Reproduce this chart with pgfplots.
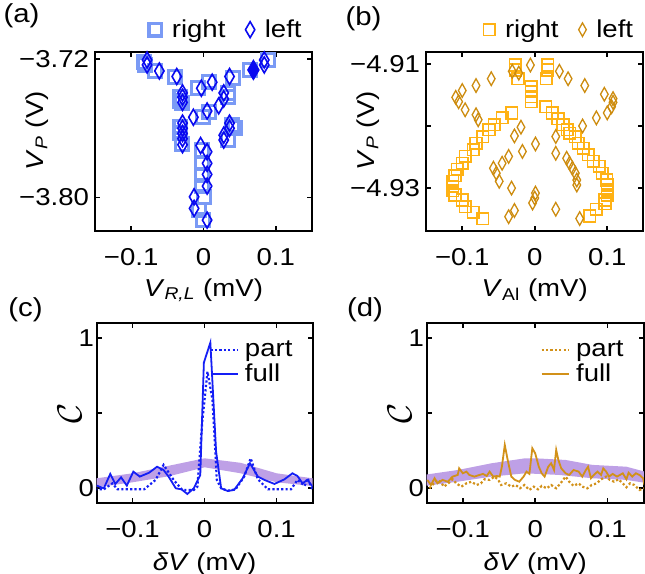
\documentclass[border=0pt]{standalone}
\usepackage{fontspec}
\setmainfont{Liberation Sans}[FakeStretch=1.13]
\usepackage{pgfplots}
\pgfplotsset{compat=1.18}
\definecolor{sqblue}{RGB}{122,154,245}
\definecolor{dblue}{RGB}{10,10,240}
\definecolor{sqorange}{RGB}{255,178,20}
\definecolor{dorange}{RGB}{205,140,15}
\definecolor{lineblue}{RGB}{20,30,245}
\definecolor{lineorange}{RGB}{210,145,25}
\definecolor{lav}{RGB}{190,160,230}
\newcommand{\fs}{\fontsize{12.2}{14}\selectfont}
\pgfplotsset{
  panel/.style={scale only axis, anchor=south west,
    font=\fs,
    axis line style={line width=1pt},
    every tick/.style={black, line width=0.8pt},
    major tick length=2.5pt, tick align=inside,
    xmin=-0.15, xmax=0.15,
    xtick={-0.1,0,0.1}, xticklabels={−0.1,0,0.1},
    xticklabel style={yshift=-5pt},
    xlabel style={at={(axis description cs:0.5,-0.33)}, anchor=center},
    legend cell align=left,
    legend style={draw=none, fill=none, font=\fs,
      /tikz/every odd column/.append style={column sep=3pt}},
  },
  scat/.style={panel,
    legend style={at={(1.0,1.02)}, anchor=south east, legend columns=2,
      /tikz/every even column/.append style={column sep=8pt}},
    yticklabel style={xshift=0.5pt},
    ylabel style={at={(axis description cs:-0.265,0.56)}, anchor=center},
  },
  corr/.style={panel, ymin=-0.1, ymax=1.1, ytick={0,0.5,1}, yticklabels={0,,1},
    ylabel={\fontsize{17}{17}\selectfont$\mathcal{C}$},
    ylabel style={at={(axis description cs:-0.125,0.5)}, anchor=center},
    yticklabel style={xshift=2.2pt},
    xlabel={\textit{δV} (mV)},
    xlabel style={at={(axis description cs:0.5,-0.34)}},
    legend image code/.code={\draw[##1] (0cm,0cm) -- (0.48cm,0cm);},
    legend style={at={(0.955,0.95)}, anchor=north east, row sep=-2pt,
      /tikz/every odd column/.append style={column sep=1pt}},
  },
}
\begin{document}
\begin{tikzpicture}
\useasboundingbox (0,0) rectangle (322.5pt,287pt);
% ---------------- (a)
\begin{axis}[scat, at={(47.5pt,171.5pt)}, width=108.5pt, height=89.5pt,
  ymin=-3.8195, ymax=-3.7158,
  ytick={-3.80,-3.72}, yticklabels={−3.80,−3.72},
  xlabel={\textit{V}\textsubscript{\textit{R,L}} (mV)},
  ylabel={\textit{V}\textsubscript{\textit{P}} (V)}]
\addplot[only marks, mark=square, mark size=3.2pt, mark options={draw=sqblue, line width=1.6pt}] coordinates {
(-0.082,-3.7215) (-0.081,-3.7233) (-0.067,-3.7268) (-0.040,-3.7304)
(-0.032,-3.7420) (-0.032,-3.7439) (-0.030,-3.7455) (-0.008,-3.7368)
(0.008,-3.7330) (0.041,-3.7307) (0.034,-3.7395) (0.034,-3.7420)
(0.008,-3.7504) (-0.001,-3.7536) (-0.032,-3.7590) (-0.032,-3.7630)
(-0.030,-3.7690) (0.043,-3.7600) (0.040,-3.7580) (0.034,-3.7668)
(-0.002,-3.7727) (-0.002,-3.7803) (-0.002,-3.7871) (-0.002,-3.7933)
(0.001,-3.7997) (-0.006,-3.8074) (-0.001,-3.8132) (0.089,-3.7204)
(0.064,-3.7262)};
\addlegendentry{right}
\addplot[only marks, mark=diamond, mark size=4pt, mark options={draw=dblue, fill=white, line width=0.8pt, xscale=0.78}] coordinates {
(-0.078,-3.7204) (-0.078,-3.7233) (-0.061,-3.7268) (-0.037,-3.7300)
(-0.029,-3.7395) (-0.029,-3.7420) (-0.029,-3.7450)
(-0.003,-3.7368) (0.012,-3.7333) (0.036,-3.7300)
(0.028,-3.7395) (0.028,-3.7430) (0.021,-3.7470) (0.005,-3.7500) (-0.014,-3.7536)
(-0.029,-3.7570) (-0.029,-3.7600) (-0.029,-3.7630) (-0.029,-3.7660) (-0.029,-3.7695)
(0.036,-3.7570) (0.036,-3.7600) (0.028,-3.7640) (0.028,-3.7668)
(-0.004,-3.7700) (0.005,-3.7736) (0.005,-3.7803) (0.005,-3.7867) (0.005,-3.7935)
(-0.013,-3.7997) (-0.013,-3.8064) (0.005,-3.8132)
(0.084,-3.7204) (0.084,-3.7233)};
\addlegendentry{left}
\addplot[only marks, forget plot, mark=diamond*, mark size=5pt, mark options={draw=dblue, fill=dblue, xscale=0.78}] coordinates {(0.069,-3.7262)};
\end{axis}
% ---------------- (b)
\begin{axis}[scat, at={(213pt,171.5pt)}, width=108.75pt, height=89.5pt,
  ymin=-4.9369, ymax=-4.9081,
  ytick={-4.93,-4.92,-4.91}, yticklabels={−4.93,,−4.91},
  xlabel={\textit{V}\textsubscript{Al} (mV)},
  ylabel={\textit{V}\textsubscript{\textit{P}} (V)}]
\addplot[only marks, mark=square, mark size=2.9pt, mark options={draw=sqorange, line width=0.8pt}] coordinates {
(-0.027,-4.9102) (-0.027,-4.9110) (-0.023,-4.9124)
(-0.032,-4.9179) (-0.045,-4.9187) (-0.056,-4.9198) (-0.063,-4.9206)
(-0.072,-4.9217) (-0.081,-4.9228) (-0.085,-4.9238) (-0.096,-4.9249)
(-0.100,-4.9260) (-0.107,-4.9270) (-0.110,-4.9280) (-0.113,-4.9289)
(-0.113,-4.9297) (-0.113,-4.9304) (-0.110,-4.9311) (-0.100,-4.9319)
(-0.096,-4.9330) (-0.085,-4.9339) (-0.072,-4.9349)
(-0.005,-4.9137) (-0.005,-4.9145) (-0.005,-4.9153) (-0.005,-4.9161)
(0.018,-4.9102) (0.018,-4.9110) (0.016,-4.9124)
(0.015,-4.9169) (0.024,-4.9179) (0.032,-4.9188) (0.039,-4.9198)
(0.045,-4.9206) (0.048,-4.9212) (0.056,-4.9217) (0.060,-4.9228)
(0.067,-4.9236) (0.074,-4.9246) (0.081,-4.9257) (0.089,-4.9265)
(0.093,-4.9276) (0.099,-4.9287) (0.100,-4.9295) (0.100,-4.9303)
(0.100,-4.9311) (0.097,-4.9319) (0.097,-4.9325) (0.085,-4.9334)
(0.076,-4.9345)};
\addlegendentry{right}
\addplot[only marks, mark=diamond, mark size=3.4pt, mark options={draw=dorange, fill=white, line width=0.65pt, xscale=0.75}] coordinates {
(-0.006,-4.9102) (-0.031,-4.9112) (-0.022,-4.9115) (-0.060,-4.9124)
(-0.081,-4.9135) (-0.100,-4.9143) (-0.109,-4.9154) (-0.105,-4.9161)
(-0.096,-4.9174) (-0.081,-4.9182) (-0.078,-4.9190)
(0.034,-4.9112) (0.046,-4.9124) (0.069,-4.9135) (0.096,-4.9149)
(0.108,-4.9156) (0.108,-4.9162) (0.106,-4.9169) (0.100,-4.9179)
(0.085,-4.9187) (0.066,-4.9200)
(-0.019,-4.9202) (-0.028,-4.9216) (0.001,-4.9229) (0.029,-4.9217)
(0.029,-4.9244) (-0.017,-4.9241) (-0.036,-4.9249) (-0.045,-4.9260)
(-0.057,-4.9268) (-0.053,-4.9276) (-0.049,-4.9289)
(0.044,-4.9252) (0.048,-4.9260) (0.052,-4.9268) (0.056,-4.9276)
(0.058,-4.9287) (0.058,-4.9295)
(-0.032,-4.9300) (0.001,-4.9308) (0.000,-4.9316) (-0.003,-4.9324)
(-0.028,-4.9336) (-0.036,-4.9346) (0.029,-4.9334) (0.062,-4.9349)};
\addlegendentry{left}
\end{axis}
% ---------------- (c)
\begin{axis}[corr, at={(48.3pt,35.35pt)}, width=108pt, height=90pt]
\addplot[fill=lav, draw=none, forget plot] coordinates {
(-0.16,0.06) (-0.1,0.10) (-0.05,0.15) (0,0.20) (0.05,0.17) (0.1,0.10) (0.16,0.06)
(0.16,0.01) (0.1,0.04) (0.05,0.10) (0,0.14) (-0.05,0.08) (-0.1,0.04) (-0.16,0.0)} -- cycle;
\addplot[lineblue, line width=1.1pt, dash pattern=on 1.1pt off 1.1pt] coordinates {
(-0.152,-0.007) (-0.140,-0.007) (-0.128,0.033) (-0.121,-0.007) (-0.084,-0.007)
(-0.068,0.056) (-0.057,0.156) (-0.043,0.056) (-0.031,-0.011) (-0.015,-0.011)
(-0.010,0.011) (-0.003,0.456) (0.004,0.778) (0.011,0.589) (0.017,0.056)
(0.023,0.000) (0.032,-0.016) (0.043,-0.007) (0.055,0.078) (0.064,0.200)
(0.074,0.060) (0.088,-0.007) (0.120,-0.007) (0.129,0.056) (0.139,0.016)
(0.143,0.067) (0.150,-0.011)};
\addlegendentry{part}
\addplot[lineblue, line width=0.9pt] coordinates {
(-0.152,0.022) (-0.140,0.000) (-0.131,0.096) (-0.124,0.029) (-0.116,0.073)
(-0.108,0.018) (-0.099,0.111) (-0.090,0.078) (-0.077,0.104) (-0.066,0.144)
(-0.057,0.122) (-0.050,0.078) (-0.040,0.000) (-0.032,-0.007) (-0.024,-0.038)
(-0.015,0.000) (-0.006,0.089) (-0.001,0.838) (0.008,0.971) (0.016,0.244)
(0.023,0.000) (0.032,-0.018) (0.041,-0.011) (0.053,0.067) (0.063,0.167)
(0.074,0.078) (0.083,0.056) (0.097,0.029) (0.111,0.060) (0.122,0.100)
(0.129,0.082) (0.136,0.033) (0.143,0.056) (0.150,0.011)};
\addlegendentry{full}
\end{axis}
% ---------------- (d)
\begin{axis}[corr, at={(213.3pt,35.35pt)}, width=108.6pt, height=90pt]
\addplot[fill=lav, draw=none, forget plot] coordinates {
(-0.16,0.085) (-0.107,0.122) (-0.060,0.167) (-0.014,0.20) (0.000,0.20)
(0.042,0.189) (0.079,0.156) (0.126,0.144) (0.16,0.10)
(0.16,0.03) (0.126,0.056) (0.079,0.067) (0.033,0.089) (-0.014,0.10)
(-0.060,0.078) (-0.107,0.044) (-0.16,0.011)} -- cycle;
\addplot[lineorange, line width=1.1pt, dash pattern=on 1.1pt off 1.1pt] coordinates {
(-0.146,0.000) (-0.142,0.022) (-0.135,0.056) (-0.130,0.038) (-0.126,0.011)
(-0.120,0.033) (-0.114,0.060) (-0.109,0.033) (-0.102,0.011) (-0.095,0.033)
(-0.088,0.044) (-0.081,0.022) (-0.075,0.033) (-0.070,0.060) (-0.063,0.056)
(-0.056,0.078) (-0.051,0.056) (-0.047,0.022) (-0.040,0.033) (-0.033,0.011)
(-0.027,0.022) (-0.021,0.000) (-0.015,0.022) (-0.008,-0.011) (-0.002,0.011)
(0.004,-0.007) (0.009,0.016) (0.016,0.000) (0.022,0.022) (0.029,0.000)
(0.035,0.033) (0.042,0.078) (0.047,0.044) (0.053,0.016) (0.060,0.033)
(0.065,0.011) (0.072,0.000) (0.078,0.022) (0.085,0.033) (0.091,0.060)
(0.098,0.078) (0.103,0.056) (0.109,0.044) (0.115,0.060) (0.121,0.033)
(0.126,0.007) (0.131,0.033) (0.137,0.022) (0.144,-0.011) (0.151,0.000)};
\addlegendentry{part}
\addplot[lineorange, line width=0.9pt] coordinates {
(-0.149,0.056) (-0.144,0.022) (-0.139,0.067) (-0.135,0.033) (-0.128,0.056)
(-0.121,0.044) (-0.114,0.078) (-0.107,0.089) (-0.105,0.133) (-0.100,0.100)
(-0.095,0.111) (-0.091,0.089) (-0.084,0.078) (-0.077,0.089) (-0.072,0.096)
(-0.067,0.082) (-0.063,0.111) (-0.058,0.078) (-0.053,0.082) (-0.049,0.078)
(-0.046,0.144) (-0.042,0.289) (-0.038,0.189) (-0.033,0.078) (-0.028,0.056)
(-0.022,0.044) (-0.016,0.078) (-0.012,0.111) (-0.008,0.096) (-0.004,0.267)
(0.000,0.233) (0.005,0.144) (0.009,0.100) (0.013,0.078) (0.018,0.144)
(0.022,0.167) (0.026,0.122) (0.029,0.256) (0.032,0.189) (0.036,0.133)
(0.042,0.100) (0.047,0.089) (0.053,0.122) (0.060,0.111) (0.065,0.078)
(0.070,0.122) (0.073,0.144) (0.077,0.067) (0.081,0.089) (0.086,0.111)
(0.091,0.089) (0.094,0.133) (0.098,0.111) (0.102,0.078) (0.107,0.096)
(0.113,0.078) (0.117,0.089) (0.121,0.100) (0.126,0.060) (0.129,0.104)
(0.134,0.078) (0.139,0.100) (0.144,0.089) (0.149,0.067) (0.151,0.022)};
\addlegendentry{full}
\end{axis}
% panel labels
\node[font=\fontsize{13}{14}\selectfont] at (10.75pt,279pt) {(a)};
\node[font=\fontsize{13}{14}\selectfont] at (181.75pt,277.5pt) {(b)};
\node[font=\fontsize{13}{14}\selectfont] at (12.75pt,132pt) {(c)};
\node[font=\fontsize{13}{14}\selectfont] at (182.5pt,132pt) {(d)};
\end{tikzpicture}
\end{document}
